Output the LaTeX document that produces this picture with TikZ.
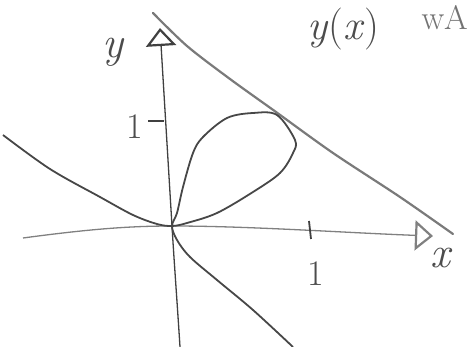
\documentclass[tikz,border=0pt]{standalone}
\usepackage{fontspec}
\usetikzlibrary{arrows.meta}

\begin{document}
\begin{tikzpicture}[
  x=1pt, y=-1pt,
  axis/.style={draw=black!45, line width=1.3pt},
  curve/.style={draw=black!72, line width=1.8pt, line join=round},
  asym/.style={draw=black!52, line width=2.2pt, line cap=round},
  tickmark/.style={draw=black!75, line width=1.8pt},
  lbl/.style={text=black!70, font=\fontsize{44}{46}\selectfont},
  >={Triangle[open, length=18pt, width=30pt, line width=2.2pt]}
]
\useasboundingbox (0,0) rectangle (471,347);

\coordinate (O) at (172,226);
\coordinate (xl) at (23,238);
\coordinate (xr) at (433,236);
\coordinate (yb) at (180,347);
\coordinate (yt) at (160,28);

% axes
\draw[axis, ->, draw=black!50] (xl) .. controls (90,229) and (130,226) .. (O)
  .. controls (250,226) and (350,233) .. (xr);
\draw[axis, ->, draw=black!75] (yb) .. controls (177,300) and (174,260) .. (O) -- (yt);

% ticks and labels
\draw[tickmark] (309,221) -- (311,239);
\draw[tickmark] (148,121) -- (164,121);
\node[lbl] (ylab) at (114,52) {\textit{y}};
\node[lbl] (xlab) at (442,258) {\textit{x}};
\node[lbl, font=\fontsize{36}{38}\selectfont] (onex) at (316,274) {1};
\node[lbl, font=\fontsize{36}{38}\selectfont] (oney) at (135,127) {1};
\node[lbl, font=\fontsize{42}{46}\selectfont, anchor=base west] (title) at (304,40) {\textit{y}(\textit{x})};
\node[lbl, text=black!55, font=\fontsize{34}{38}\selectfont, anchor=base east, inner sep=1pt] (title2) at (469,30) {wA};

% asymptote
\draw[asym] plot[smooth, tension=0.5] coordinates {(153,13) (187,46) (230,79) (276,112) (333,153) (400,197) (453,234)};

% the curve with its loop
\draw[curve] plot[smooth, tension=0.55] coordinates {
  (3,135) (50,169) (100,197) (133,215) (157,224) (172,226)
  (187,223) (217,213) (253,192) (280,173) (293,153) (295,140) (277,115)
  (253,113) (227,118) (203,137) (193,153) (183,187) (177,213) (172,226)
  (177,240) (190,257) (217,280) (253,310) (293,347)};
\end{tikzpicture}
\end{document}
